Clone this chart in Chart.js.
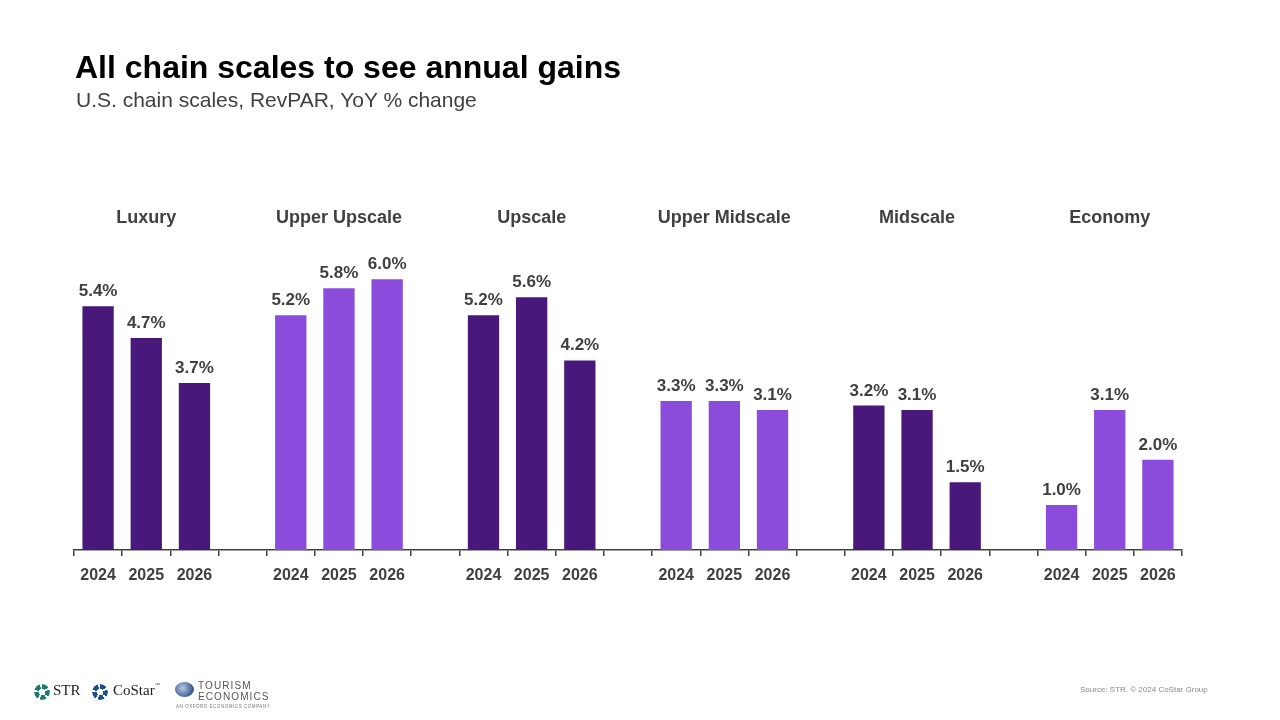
<!DOCTYPE html>
<html>
<head>
<meta charset="utf-8">
<script src="https://cdn.jsdelivr.net/npm/chart.js@4.4.1/dist/chart.umd.min.js"></script>
<style>
  html, body { margin: 0; padding: 0; background: #ffffff; }
  body { width: 1280px; height: 720px; position: relative; overflow: hidden; font-family: "Liberation Sans", Arial, sans-serif; }
  #wrap { position: absolute; left: 0; top: 0; width: 1280px; height: 720px; }
  .title { position: absolute; left: 75px; top: 49px; font-size: 32px; font-weight: bold; color: #000; white-space: nowrap; }
  .subtitle { position: absolute; left: 76px; top: 88px; font-size: 21px; color: #404040; white-space: nowrap; }
  .source { position: absolute; left: 1080px; top: 685px; font-size: 8px; color: #8a8a8a; white-space: nowrap; }
  .icon { position: absolute; width: 16px; height: 16px; border-radius: 50%;
          -webkit-mask: radial-gradient(circle, transparent 3px, #000 3.5px);
          mask: radial-gradient(circle, transparent 3px, #000 3.5px); }
  .ltxt { position: absolute; font-family: "Liberation Serif", serif; font-size: 15px; color: #222; white-space: nowrap; }
  .globe { position: absolute; left: 175px; top: 682px; width: 19px; height: 15px; border-radius: 50%;
           background: radial-gradient(circle at 40% 40%, #b8c8e0, #3a5a8e 70%, #1f3d6e); }
  .te1 { position: absolute; left: 198px; top: 681px; font-size: 10px; letter-spacing: 1.1px; color: #555; line-height: 10.5px; white-space: nowrap; }
  .te2 { position: absolute; left: 176px; top: 704px; font-size: 4.5px; letter-spacing: 0.55px; color: #777; white-space: nowrap; }
</style>
</head>
<body>
<div id="wrap"><canvas id="c"></canvas></div>
<div class="title">All chain scales to see annual gains</div>
<div class="subtitle">U.S. chain scales, RevPAR, YoY % change</div>
<div class="icon" style="left:34px;top:684px;background:conic-gradient(#1b7d6e 0 54deg, transparent 54deg 72deg, #1b7d6e 72deg 126deg, transparent 126deg 144deg, #1b7d6e 144deg 198deg, transparent 198deg 216deg, #1b7d6e 216deg 270deg, transparent 270deg 288deg, #1b7d6e 288deg 342deg, transparent 342deg 360deg);"></div>
<div class="ltxt" style="left:53px;top:682px;">STR</div>
<div class="icon" style="left:92px;top:684px;background:conic-gradient(#1d4f8c 0 54deg, transparent 54deg 72deg, #1d4f8c 72deg 126deg, transparent 126deg 144deg, #1d4f8c 144deg 198deg, transparent 198deg 216deg, #1d4f8c 216deg 270deg, transparent 270deg 288deg, #1d4f8c 288deg 342deg, transparent 342deg 360deg);"></div>
<div class="ltxt" style="left:113px;top:682px;">CoStar<span style="font-size:5px;vertical-align:top;">™</span></div>
<div class="globe"></div>
<div class="te1">TOURISM<br>ECONOMICS</div>
<div class="te2">AN OXFORD ECONOMICS COMPANY</div>
<div class="source">Source: STR. © 2024 CoStar Group</div>
<script>
// ---- Data ----
const groups = ["Luxury", "Upper Upscale", "Upscale", "Upper Midscale", "Midscale", "Economy"];
const years = ["2024", "2025", "2026"];
const luxury = [5.4, 4.7, 3.7];
const upperUpscale = [5.2, 5.8, 6.0];
const upscale = [5.2, 5.6, 4.2];
const upperMidscale = [3.3, 3.3, 3.1];
const midscale = [3.2, 3.1, 1.5];
const economy = [1.0, 3.1, 2.0];
const groupValues = [luxury, upperUpscale, upscale, upperMidscale, midscale, economy];

const darkPurple = "#48197b";
const lightPurple = "#8b4bdb";
const groupColors = [darkPurple, lightPurple, darkPurple, lightPurple, darkPurple, lightPurple];

// Build flat category axis: 3 years per group plus one empty spacer category between groups
const labels = [];
const values = [];
const colors = [];
groups.forEach((g, gi) => {
  years.forEach((y, yi) => {
    labels.push(y);
    values.push(groupValues[gi][yi]);
    colors.push(groupColors[gi]);
  });
  if (gi < groups.length - 1) {
    labels.push("");
    values.push(null);
    colors.push("rgba(0,0,0,0)");
  }
});

const textColor = "#404040";

const labelPlugin = {
  id: "labelPlugin",
  afterDatasetsDraw(chart) {
    const ctx = chart.ctx;
    const meta = chart.getDatasetMeta(0);
    ctx.save();
    ctx.fillStyle = textColor;
    ctx.textAlign = "center";
    ctx.textBaseline = "alphabetic";
    ctx.font = "bold 17px 'Liberation Sans', Arial, sans-serif";
    meta.data.forEach((bar, i) => {
      const v = values[i];
      if (v === null) return;
      ctx.fillText(v.toFixed(1) + "%", bar.x, bar.y - 10);
    });
    // group headers
    const xs = chart.scales.x;
    ctx.font = "bold 18px 'Liberation Sans', Arial, sans-serif";
    ctx.textBaseline = "middle";
    groups.forEach((g, gi) => {
      const x = xs.getPixelForValue(gi * 4 + 1);
      ctx.fillText(g, x, chart.chartArea.top + 29);
    });
    ctx.restore();
  }
};

new Chart(document.getElementById("c"), {
  type: "bar",
  data: {
    labels: labels,
    datasets: [{
      data: values,
      backgroundColor: colors,
      borderWidth: 0,
      barPercentage: 0.65,
      categoryPercentage: 1.0
    }]
  },
  options: {
    responsive: true,
    maintainAspectRatio: false,
    animation: false,
    events: [],
    layout: { padding: { left: 74, right: 98, top: 189, bottom: 110 } },
    plugins: {
      legend: { display: false },
      tooltip: { enabled: false },
      title: { display: false }
    },
    scales: {
      x: {
        offset: true,
        grid: {
          display: true,
          offset: true,
          drawOnChartArea: false,
          drawTicks: true,
          tickLength: 6,
          color: "#404040",
          lineWidth: 1.5
        },
        border: { display: true, color: "#404040", width: 1.5 },
        ticks: {
          color: textColor,
          font: { family: "'Liberation Sans', Arial, sans-serif", size: 16, weight: "bold" },
          padding: 10,
          maxRotation: 0,
          autoSkip: false
        },
        afterFit(scale) { scale.height = 60; }
      },
      y: {
        display: false,
        min: 0,
        max: 8
      }
    }
  },
  plugins: [labelPlugin]
});
</script>
</body>
</html>
